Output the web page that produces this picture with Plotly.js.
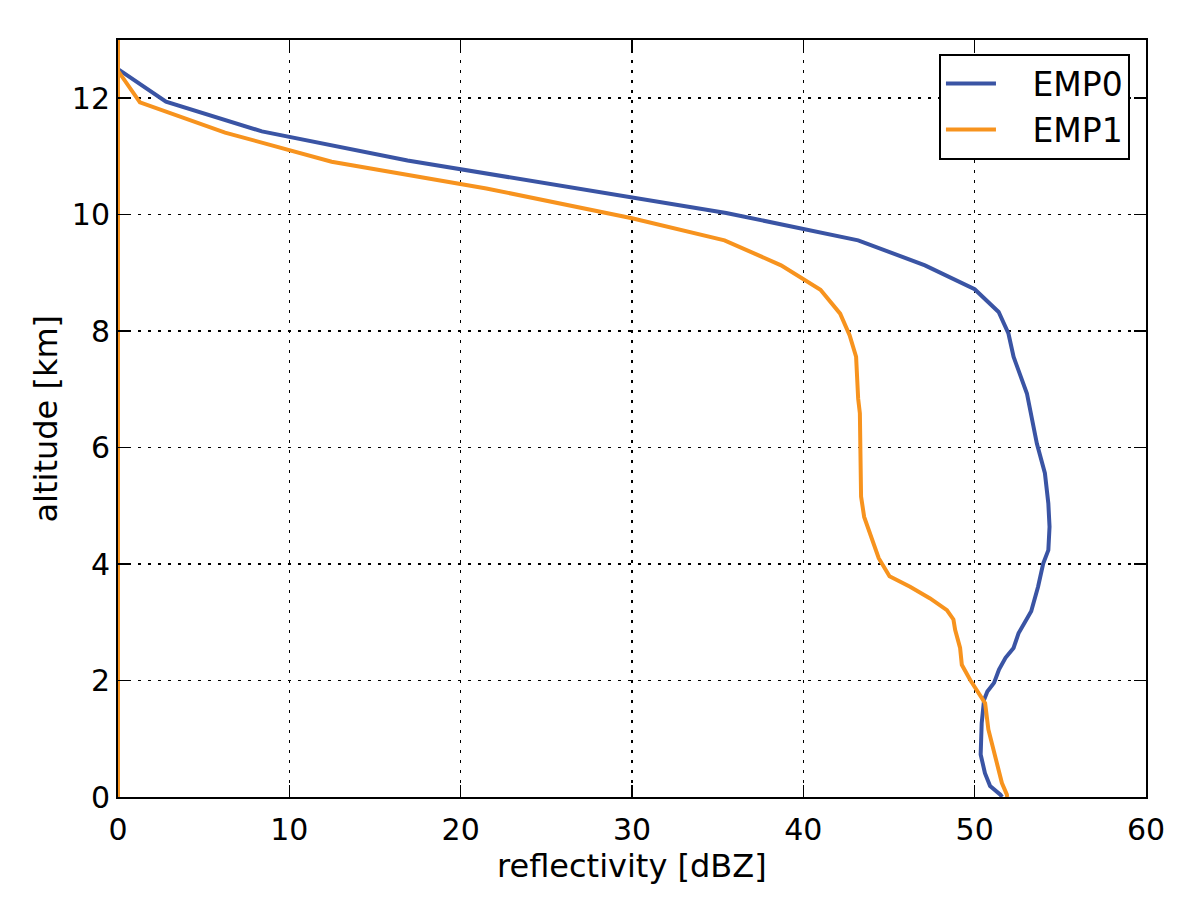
<!DOCTYPE html>
<html>
<head>
<meta charset="utf-8">
<script src="https://cdn.plot.ly/plotly-3.0.1.min.js"></script>
<style>html,body{margin:0;padding:0;background:#fff;}#chart{width:1200px;height:910px;}</style>
</head>
<body>
<div id="chart"></div>
<script>
// EMP0 profile (reflectivity dBZ vs altitude km)
var emp0_dbz = [51.6, 51.5, 50.9, 50.6, 50.35, 50.41, 50.55, 50.74, 51.13, 51.42, 51.8, 52.27, 52.56, 52.85, 53.3, 53.7, 54.0, 54.3, 54.37, 54.3, 54.1, 53.63, 53.05, 52.27, 51.97, 51.4, 50.0, 47.1, 43.2, 35.5, 16.9, 8.4, 2.8, 0];
var emp0_alt = [0.0, 0.04, 0.19, 0.41, 0.73, 1.27, 1.67, 1.81, 1.96, 2.19, 2.39, 2.56, 2.81, 2.96, 3.19, 3.61, 4.01, 4.24, 4.64, 5.04, 5.56, 6.07, 6.93, 7.56, 7.96, 8.33, 8.72, 9.13, 9.56, 10.03, 10.93, 11.43, 11.94, 12.5];

// EMP1 profile
var emp1_dbz = [51.9, 51.88, 51.59, 51.19, 50.8, 50.61, 50.22, 49.74, 49.25, 49.15, 48.86, 48.76, 48.38, 47.4, 46.23, 45.03, 44.4, 43.8, 43.55, 43.37, 43.3, 43.3, 43.2, 43.08, 42.7, 42.15, 41.0, 38.7, 35.4, 30.0, 21.5, 12.47, 6.25, 1.28, 0, 0, 0];
var emp1_alt = [0.0, 0.04, 0.24, 0.70, 1.16, 1.61, 1.79, 2.01, 2.27, 2.56, 2.87, 3.05, 3.21, 3.41, 3.61, 3.79, 4.10, 4.59, 4.81, 5.16, 6.01, 6.59, 6.84, 7.56, 7.93, 8.30, 8.71, 9.13, 9.56, 9.94, 10.45, 10.91, 11.41, 11.93, 12.47, 13.0, 0.0];

var seriesNames = ['EMP0', 'EMP1'];
var xTicks = [0, 10, 20, 30, 40, 50, 60];
var yTicks = [0, 2, 4, 6, 8, 10, 12];
var xTitle = 'reflectivity [dBZ]';
var yTitle = 'altitude [km]';

var font = 'DejaVu Sans, Liberation Sans, sans-serif';
var tickFs = 30, titleFs = 32, legendFs = 33;
var pad = '\u00a0\u00a0\u00a0';

var traces = [
  {x: emp0_dbz, y: emp0_alt, mode: 'lines', name: pad + seriesNames[0],
   line: {color: '#3a54a4', width: 4}},
  {x: emp1_dbz, y: emp1_alt, mode: 'lines', name: pad + seriesNames[1],
   line: {color: '#f7931e', width: 4}}
];

var axisCommon = {
  showline: true, linecolor: '#000', linewidth: 2, mirror: 'ticks',
  ticks: 'inside', ticklen: 12, tickwidth: 1.5, tickcolor: '#000',
  showgrid: true, gridcolor: '#000', gridwidth: 1.5, griddash: '3px,7px',
  zeroline: false,
  tickfont: {family: font, size: tickFs, color: '#000'}
};

var layout = {
  width: 1200, height: 910,
  margin: {l: 118, r: 54, t: 40, b: 112.5},
  paper_bgcolor: '#fff', plot_bgcolor: '#fff',
  showlegend: true,
  xaxis: Object.assign({}, axisCommon, {
    range: [0, 60], tickvals: xTicks, ticktext: xTicks.map(String),
    ticklabelstandoff: 5
  }),
  yaxis: Object.assign({}, axisCommon, {
    range: [0, 13], tickvals: yTicks, ticktext: yTicks.map(String),
    ticklabelstandoff: 0
  }),
  annotations: [
    {text: xTitle, xref: 'paper', yref: 'paper', x: 0.5, y: -0.091,
     xanchor: 'center', yanchor: 'middle', showarrow: false,
     font: {family: font, size: titleFs, color: '#000'}},
    {text: yTitle, xref: 'paper', yref: 'paper', x: -0.071, y: 0.5,
     xanchor: 'center', yanchor: 'middle', showarrow: false, textangle: -90,
     font: {family: font, size: titleFs, color: '#000'}}
  ],
  legend: {
    x: 0.9844, y: 0.982, xanchor: 'right', yanchor: 'top',
    bgcolor: '#fff', bordercolor: '#000', borderwidth: 2,
    font: {family: font, size: legendFs, color: '#000'},
    itemwidth: 50
  }
};

Plotly.newPlot('chart', traces, layout, {displayModeBar: false, staticPlot: true});
</script>
</body>
</html>
